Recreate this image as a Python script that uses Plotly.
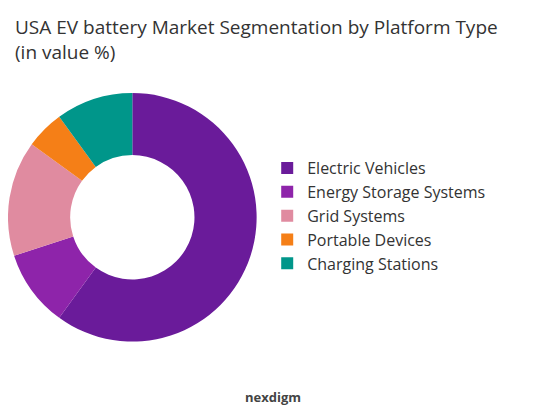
import plotly.graph_objects as go

segments = ["Electric Vehicles", "Energy Storage Systems", "Grid Systems",
            "Portable Devices", "Charging Stations"]
shares = [60, 10, 15, 5, 10]
colors = ["#6a1b9a", "#8e24aa", "#e08ba0", "#f57f17", "#00968a"]

fig = go.Figure(go.Pie(
    labels=segments, values=shares, hole=0.5, sort=False,
    direction="clockwise", rotation=0,
    marker=dict(colors=colors), textinfo="none",
    domain=dict(x=[0.0, 0.47], y=[0.135, 0.935]),
))

fig.update_layout(
    width=534, height=411,
    paper_bgcolor="white", plot_bgcolor="white",
    font=dict(family="Open Sans", color="#333"),
    margin=dict(l=0, r=5, t=60, b=30),
    legend=dict(x=0.49, y=0.54, yanchor="middle", font=dict(size=16, color="#333"),
                itemwidth=30, tracegroupgap=8, entrywidth=0),
    annotations=[
        dict(text="USA EV battery Market Segmentation by Platform Type<br>(in value %)",
             x=0.01, y=1.175, xref="paper", yref="paper", xanchor="left", yanchor="top",
             align="left", showarrow=False,
             font=dict(size=19, color="#333")),
        dict(text="<b>nexdigm</b>", x=0.5, y=-0.06, xref="paper", yref="paper",
             showarrow=False, font=dict(size=13, color="#444")),
    ],
)

fig.write_html("out.html")
